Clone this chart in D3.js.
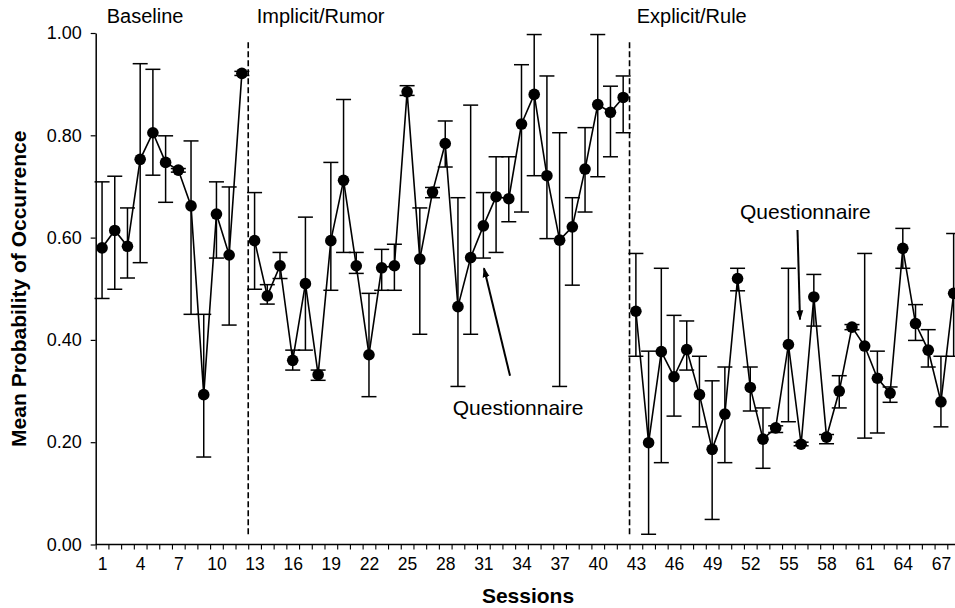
<!DOCTYPE html>
<html>
<head>
<meta charset="utf-8">
<script src="https://cdn.jsdelivr.net/npm/d3@7"></script>
<style>
  html, body { margin: 0; padding: 0; background: #fff; }
  svg { display: block; font-family: "Liberation Sans", Arial, sans-serif; }
</style>
</head>
<body>
<svg id="chart" width="955" height="608"></svg>
<script>
// ---------- data ----------
const sessions = [1,2,3,4,5,6,7,8,9,10,11,12,13,14,15,16,17,18,19,20,21,22,23,24,25,26,27,28,29,30,31,32,33,34,
  35,36,37,38,39,40,41,42,43,44,45,46,47,48,49,50,51,52,53,54,55,56,57,58,59,60,61,62,63,64,65,66,67,68];
const means = [0.580,0.614,0.583,0.753,0.805,0.747,0.732,0.662,0.293,0.646,0.566,0.921,
  0.594,0.486,0.545,0.360,0.510,0.332,0.594,0.712,0.545,0.371,0.541,0.545,0.885,0.558,0.689,0.784,0.465,0.561,
  0.623,0.680,0.676,0.822,0.880,0.721,0.595,0.621,0.734,0.860,0.845,0.874,
  0.456,0.199,0.377,0.328,0.381,0.293,0.186,0.255,0.520,0.307,0.206,0.228,0.391,0.196,0.484,0.210,0.300,0.425,
  0.388,0.325,0.296,0.579,0.432,0.380,0.279,0.491];
const upper = [0.709,0.720,0.658,0.940,0.929,0.799,0.735,0.789,0.450,0.709,0.699,0.925,
  0.688,0.508,0.571,0.380,0.640,0.341,0.747,0.870,0.571,0.491,0.577,0.587,0.897,0.658,0.698,0.828,0.678,0.859,
  0.688,0.758,0.758,0.938,0.997,0.916,0.805,0.678,0.815,0.997,0.896,0.916,
  0.569,0.378,0.540,0.448,0.437,0.368,0.320,0.347,0.540,0.347,0.267,0.232,0.540,0.200,0.528,0.215,0.330,0.430,
  0.569,0.378,0.308,0.618,0.469,0.420,0.368,0.608];
const lower = [0.481,0.499,0.521,0.551,0.722,0.669,0.728,0.450,0.171,0.560,0.429,0.917,
  0.499,0.470,0.520,0.341,0.380,0.321,0.497,0.571,0.530,0.289,0.497,0.497,0.878,0.411,0.678,0.738,0.309,0.411,
  0.560,0.571,0.631,0.650,0.721,0.598,0.309,0.507,0.650,0.719,0.758,0.805,
  0.368,0.020,0.160,0.251,0.341,0.230,0.049,0.160,0.496,0.261,0.149,0.219,0.240,0.193,0.427,0.197,0.267,0.420,
  0.208,0.218,0.278,0.540,0.399,0.347,0.230,0.368];
const phaseNames = ["Baseline", "Implicit/Rumor", "Explicit/Rule"];
const phaseStarts = [1, 13, 43];
const phaseEnds = [12, 42, 68];
const xTickLabels = [1,4,7,10,13,16,19,22,25,28,31,34,37,40,43,46,49,52,55,58,61,64,67];
const yTickValues = [0, 0.2, 0.4, 0.6, 0.8, 1.0];

// ---------- setup ----------
const svg = d3.select("#chart");
const x = d3.scaleLinear().domain([0.5, 68.5]).range([95.7, 960]);
const y = d3.scaleLinear().domain([0, 1]).range([544.5, 33]);
const FONT = '"Liberation Sans", Arial, sans-serif';

const data = sessions.map((s, i) => ({ s, m: means[i], hi: upper[i], lo: lower[i] }));

// ---------- axes ----------
const boundaries = sessions.map(s => s - 0.5).concat([68.5]);
const xAxisTicks = svg.append("g")
  .attr("transform", `translate(0,${y(0)})`)
  .call(d3.axisBottom(x).tickValues(boundaries).tickSize(5).tickSizeOuter(0).tickFormat(""));
xAxisTicks.select(".domain").attr("d", `M${x(0.5)},0H955`).attr("stroke", "#000").attr("stroke-width", 1.5);
xAxisTicks.selectAll(".tick line").attr("stroke", "#000").attr("stroke-width", 1.1);

const xAxisLabels = svg.append("g")
  .attr("transform", `translate(0,${y(0)})`)
  .call(d3.axisBottom(x).tickValues(xTickLabels).tickSize(0).tickPadding(13).tickFormat(d3.format("d")));
xAxisLabels.select(".domain").remove();
xAxisLabels.selectAll("text").attr("font-size", 17.5).attr("font-family", FONT).attr("fill", "#000");

const yAxis = svg.append("g")
  .attr("transform", `translate(${x(0.5)},0)`)
  .call(d3.axisLeft(y).tickValues(yTickValues).tickSize(5).tickSizeOuter(0).tickPadding(9).tickFormat(d3.format(".2f")));
yAxis.select(".domain").attr("stroke", "#000").attr("stroke-width", 1.5);
yAxis.selectAll(".tick line").attr("stroke", "#000").attr("stroke-width", 1.2);
yAxis.selectAll("text").attr("font-size", 18).attr("font-family", FONT).attr("fill", "#000");

// axis titles
svg.append("text")
  .attr("transform", `translate(26,${(y(0.81) + y(0.19)) / 2}) rotate(-90)`)
  .attr("text-anchor", "middle")
  .attr("font-size", 21).attr("font-weight", "bold").attr("font-family", FONT)
  .text("Mean Probability of Occurrence");
svg.append("text")
  .attr("x", 528).attr("y", 603)
  .attr("text-anchor", "middle")
  .attr("font-size", 21).attr("font-weight", "bold").attr("font-family", FONT)
  .text("Sessions");

// phase dividers
[12.5, 42.5].forEach(b => {
  svg.append("line")
    .attr("x1", x(b)).attr("x2", x(b))
    .attr("y1", y(0.982)).attr("y2", y(0.018))
    .attr("stroke", "#000").attr("stroke-width", 1.6)
    .attr("stroke-dasharray", "6,3");
});

// phase labels
const phaseLabelX = [106.7, 256.7, 636.7];
phaseNames.forEach((n, i) => {
  svg.append("text")
    .attr("x", phaseLabelX[i]).attr("y", 23)
    .attr("font-size", 20).attr("font-family", FONT)
    .text(n);
});

// ---------- error bars ----------
const capW = 7.5;
const eb = svg.append("g").attr("stroke", "#000").attr("stroke-width", 1.5).attr("fill", "none");
data.forEach(d => {
  const cx = x(d.s);
  eb.append("line").attr("x1", cx).attr("x2", cx).attr("y1", y(d.hi)).attr("y2", y(d.lo));
  eb.append("line").attr("x1", cx - capW).attr("x2", cx + capW).attr("y1", y(d.hi)).attr("y2", y(d.hi));
  eb.append("line").attr("x1", cx - capW).attr("x2", cx + capW).attr("y1", y(d.lo)).attr("y2", y(d.lo));
});

// ---------- lines per phase ----------
const line = d3.line().x(d => x(d.s)).y(d => y(d.m));
phaseStarts.forEach((st, i) => {
  const seg = data.filter(d => d.s >= st && d.s <= phaseEnds[i]);
  svg.append("path").datum(seg)
    .attr("d", line)
    .attr("fill", "none").attr("stroke", "#000").attr("stroke-width", 1.6);
});

// ---------- points ----------
svg.append("g").selectAll("circle").data(data).join("circle")
  .attr("cx", d => x(d.s)).attr("cy", d => y(d.m)).attr("r", 5.8)
  .attr("fill", "#000");

// ---------- annotations ----------
svg.append("defs").append("marker")
  .attr("id", "arrow").attr("viewBox", "0 0 10 10")
  .attr("refX", 9).attr("refY", 5)
  .attr("markerWidth", 10).attr("markerHeight", 10)
  .attr("markerUnits", "userSpaceOnUse")
  .attr("orient", "auto")
  .append("path").attr("d", "M0,1.5 L10,5 L0,8.5 Z").attr("fill", "#000");

svg.append("line")
  .attr("x1", 510).attr("y1", y(0.33))
  .attr("x2", 484).attr("y2", y(0.54))
  .attr("stroke", "#000").attr("stroke-width", 2)
  .attr("marker-end", "url(#arrow)");
svg.append("text")
  .attr("x", 452.7).attr("y", 415)
  .attr("font-size", 21).attr("font-family", FONT)
  .text("Questionnaire");

svg.append("line")
  .attr("x1", 797.5).attr("y1", y(0.615))
  .attr("x2", 800).attr("y2", y(0.44))
  .attr("stroke", "#000").attr("stroke-width", 2)
  .attr("marker-end", "url(#arrow)");
svg.append("text")
  .attr("x", 740).attr("y", 219)
  .attr("font-size", 21).attr("font-family", FONT)
  .text("Questionnaire");
</script>
</body>
</html>
